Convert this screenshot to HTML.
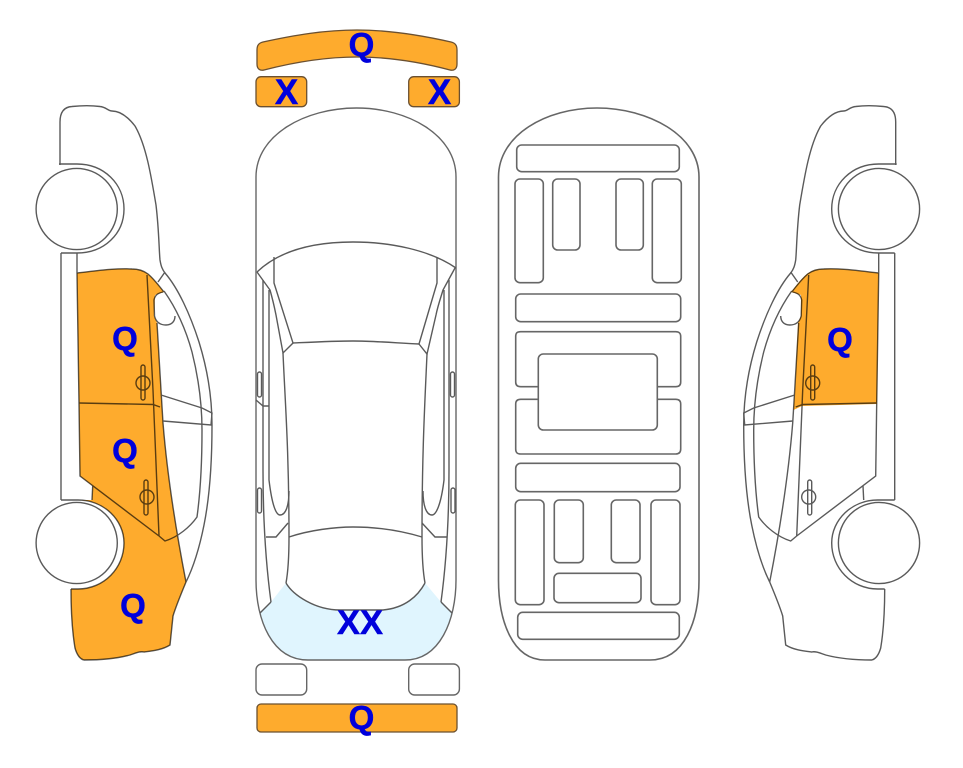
<!DOCTYPE html>
<html><head><meta charset="utf-8"><style>
html,body{margin:0;padding:0;background:#fff}
svg{display:block}
.l path,.l rect,.l circle{fill:none;stroke:#5a5a5a;stroke-width:1.4}
.m{stroke:#666 !important;stroke-width:1.6}
.g path,.g rect{stroke:#666;stroke-width:1.6}
.w{fill:#fff !important}
.o{fill:#feab2d;stroke:#6b5030;stroke-width:1.3}
.b{mix-blend-mode:multiply}
text{font-family:"Liberation Sans",sans-serif;font-weight:bold;fill:#0000dc;stroke:#0000dc;stroke-width:.5;text-anchor:middle}
</style></head><body>
<svg width="963" height="768" viewBox="0 0 963 768" xmlns="http://www.w3.org/2000/svg">
<defs>
<g id="side" class="l">
<path d="M60 165V122C60 112 64 107 72 106.500C82 105.500 92 105.500 100 106.500C106 107 108 111 112 111C120 111 128 117 135 126C146 145 151 175 156 205C159 230 159 250 160 260C161 266 162 269 165 273C178 288 190 314 199 342C207 368 212 395 212 425C212 465 209 500 204 525C199 550 193 568 186 582"/>
<path d="M164 291C176 308 186 330 192 352C197 372 202 400 202 430C202 465 200 495 197 517C190 527 178 537 165 541L159 536"/>
<path d="M158 282L165 272"/>
<path d="M163 292C158 293 155 295 154 300L154.500 316C156 322 160 325 166 325C172 325 175 321 175 316"/>
<path d="M61 253V500"/><path d="M77 253V273"/>
<path d="M59 164H77C104 164 124 184 124 209C124 234 104 253 77 253H61"/>
<path d="M61 500H78C104 500 124 520 124 543C124 568 104 589 78 589H71"/>
<path d="M71 589C71 610 72 630 75 648C77 655 80 659 84 660C100 660 115 659 130 655C136 653 140 651 144 652C152 651 162 650 170 645C171 635 172 625 173 616C176 606 181 594 186 582"/>
<path d="M77 273C95 271 115 268 132 269C139 269 144 271 148 274C155 280 159 286 164 292"/>
<path d="M77 273L79 403L80 476L159 536"/>
<path d="M92.700 486L92 500"/>
<path d="M147 275L153 390L159 536"/>
<path d="M157 323L161 390L163 423C166 460 172 510 186 582"/>
<path d="M79 403L153 404.500L160 407"/>
<path d="M161 395L202 408L212 413L211 425L163 421"/>
<rect x="141" y="365" width="4" height="35" rx="2"/>
<circle cx="143" cy="383" r="7"/>
<rect x="144" y="480" width="4" height="35" rx="2"/>
<circle cx="147" cy="497" r="7"/>
<circle class="w" cx="76.700" cy="209" r="40.600"/>
<circle class="w" cx="76.700" cy="543" r="40.600"/>
</g>
</defs>

<!-- left car -->
<path fill="#feab2d" d="M77 273C95 271 115 268 132 269C139 269 144 271 148 274C155 280 159 286 164 292L155 295L154 316L157 323L161 390L163 423C166 460 172 510 186 582C181 594 176 606 173 616C172 625 171 635 170 645C162 650 152 651 144 652C140 651 136 653 130 655C115 659 100 660 84 660C80 659 77 655 75 648C72 630 71 610 71 589H78C104 589 124 568 124 543C124 520 104 500 78 500H92L92.700 486L80 476L79 403Z"/>
<use class="b" href="#side"/>

<!-- right car -->
<path fill="#feab2d" d="M878.700 273C860 271 840 268 823 269C816 269 811 271 807 274C800 280 796 286 791 292L801 295L801 316L798 323L795 390L793.500 410L802 406L877 404Z"/>
<use class="b" href="#side" transform="translate(955.700 0) scale(-1 1)"/>

<!-- top view -->
<path class="o" d="M257 50C257 45 259 43 263 42C295 35 325 30 357 30C389 30 420 35 451 42C455 43 457 45 457 50V64C457 69 454 71 450 70C420 62 389 57 357 57C325 57 295 62 264 70C260 71 257 69 257 64Z"/>
<rect class="o" x="256" y="76.700" width="50.700" height="30" rx="5"/>
<rect class="o" x="408.700" y="76.700" width="50.700" height="30" rx="5"/>
<path d="M260 613L271 602L286 583C293 595 315 610 340 610H383C405 608 418 596 425 583L441 602L452 613C445 640 430 660 410 660H303C285 660 268 642 260 613Z" fill="#e0f5fe"/>
<g class="l">
<path class="m" d="M256 177C256 135 305 108 356.500 108C408 108 456 135 456 177V580C456 620 440 660 405 660H308C272 660 256 620 256 580Z"/>
<path d="M257 272C280 250 315 242 353 242C390 242 430 250 456 268"/>
<path d="M274 257V283L293 343L283 353L276 315C274 305 272 297 270 290L257 272"/>
<path d="M437 257V283L419 344L427 354L436 315C438 305 441 297 443 290L455 268"/>
<path d="M293 343C315 342 335 341 353 341C375 341 397 343 419 344"/>
<path d="M283 353C285 400 289 450 289 537C289 560 288 572 286 583"/>
<path d="M427 354C425 400 422 450 422 537C422 560 423 572 425 583"/>
<path d="M263 280V470C263 520 266 565 271 602"/>
<path d="M269 290V480C272 505 276 515 280 515C286 515 289 505 289 491"/>
<path d="M449 280V470C449 520 446 565 441 602"/>
<path d="M444 290V480C441 505 436 515 432 515C426 515 423 505 423 491"/>
<path d="M256 400L263 406H269"/>
<path d="M266 537H276L288 523"/>
<path d="M422 523L435 537H447"/>
<path d="M289 537C310 530 335 527 353 527C378 527 402 531 422 537"/>
<path d="M286 583C293 595 315 610 340 610H383C405 608 418 596 425 583"/>
<path d="M260 613L271 602"/><path d="M441 602L452 613"/>
<rect x="257.500" y="372" width="4" height="25" rx="2"/>
<rect x="450.500" y="372" width="4" height="25" rx="2"/>
<rect x="257.500" y="488" width="4" height="25" rx="2"/>
<rect x="451" y="488" width="4" height="25" rx="2"/>
<rect class="m" x="256" y="664" width="50.700" height="31" rx="6"/>
<rect class="m" x="408.700" y="664" width="50.700" height="31" rx="6"/>
</g>
<rect class="o" x="257" y="704" width="200" height="28" rx="4"/>

<!-- underbody -->
<g class="l g">
<path d="M498.500 177C498.500 135 546 108 597 108C648 108 699 135 699 177V580C699 620 685 660 650 660H545C512 660 498.500 620 498.500 580Z"/>
<rect x="516.700" y="145" width="162.600" height="26.700" rx="5"/>
<rect x="515" y="179" width="28.300" height="103.700" rx="5"/>
<rect x="552.700" y="179" width="27.300" height="71" rx="5"/>
<rect x="616" y="179" width="27.300" height="71" rx="5"/>
<rect x="652.300" y="179" width="29" height="103.700" rx="5"/>
<rect x="515.700" y="294" width="165" height="27.700" rx="5"/>
<path d="M538.300 386.700H520.700C517 386.700 515.700 385 515.700 382V336.700C515.700 333 517 331.700 520.700 331.700H675.700C679 331.700 680.700 333 680.700 336.700V382C680.700 385 679 386.700 675.700 386.700H657.300"/>
<path d="M538.300 399.300H520.700C517 399.300 515.700 401 515.700 404V449C515.700 452.500 517 454 520.700 454H675.700C679 454 680.700 452.500 680.700 449V404C680.700 401 679 399.300 675.700 399.300H657.300"/>
<rect x="538.300" y="354" width="119" height="76" rx="5"/>
<rect x="515.700" y="463.300" width="164.300" height="28.400" rx="5"/>
<rect x="515.300" y="500" width="28.700" height="104.700" rx="5"/>
<rect x="554.300" y="500" width="29" height="62.700" rx="5"/>
<rect x="611.300" y="500" width="28.700" height="62.700" rx="5"/>
<rect x="651" y="500" width="29" height="104.700" rx="5"/>
<rect x="554" y="573.300" width="87" height="29.400" rx="5"/>
<rect x="517.700" y="612.300" width="161.600" height="27" rx="5"/>
</g>

<text x="125" y="350" font-size="33">Q</text>
<text x="125" y="462" font-size="33">Q</text>
<text x="133" y="617" font-size="33">Q</text>
<text x="840" y="351" font-size="33">Q</text>
<text x="361.500" y="56" font-size="33">Q</text>
<text x="361.500" y="729" font-size="33">Q</text>
<text x="286.500" y="104" font-size="35">X</text>
<text x="439.500" y="104" font-size="35">X</text>
<text x="360" y="634" font-size="34.500">XX</text>
</svg>
</body></html>
